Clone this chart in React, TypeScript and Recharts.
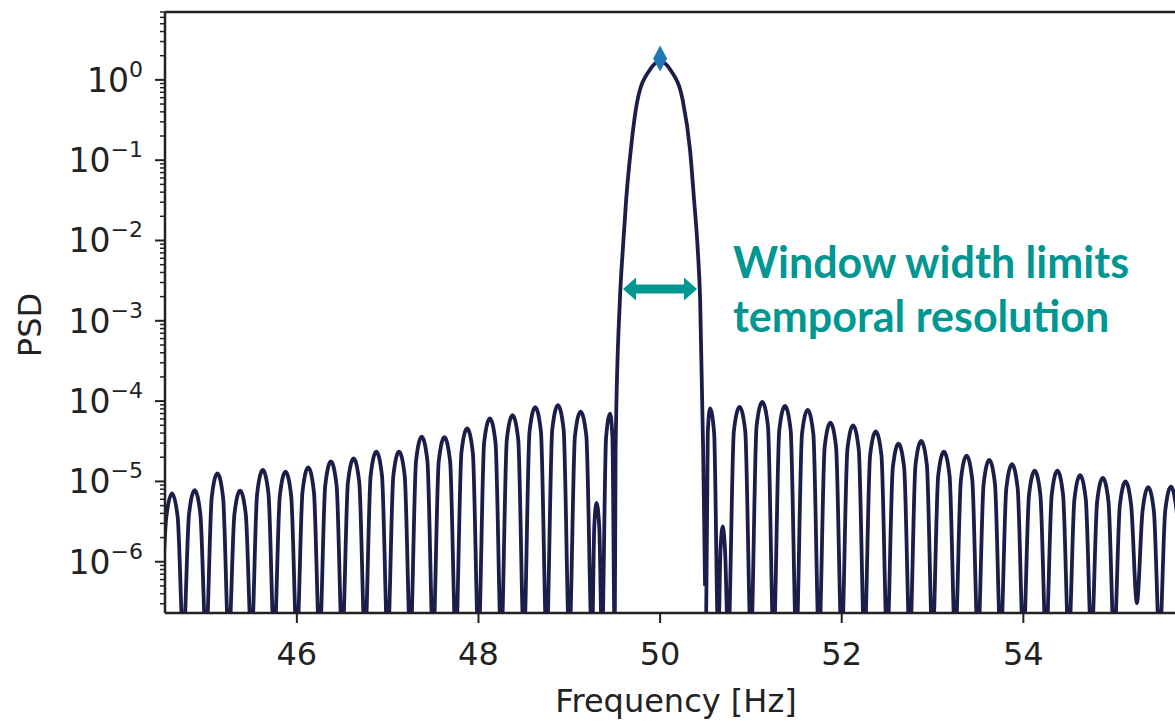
import React from 'react'
import { ComposedChart, Line, Scatter, XAxis, YAxis, ReferenceLine } from 'recharts'

// [frequency Hz, PSD]; nulls sit just below the axis floor
type Pt = [number, number | null]

const LEFT_SIDELOBES: Pt[] = [
  [44.5, 1e-7],
  [44.5625, 3.6e-6], [44.625, 7.1e-6], [44.6875, 3.6e-6], [44.75, 1e-7],
  [44.8125, 3.9e-6], [44.875, 7.8e-6], [44.9375, 3.9e-6], [45.0, 1e-7],
  [45.0625, 6.3e-6], [45.125, 1.26e-5], [45.1875, 6.3e-6], [45.25, 1e-7],
  [45.3125, 3.9e-6], [45.375, 7.7e-6], [45.4375, 3.9e-6], [45.5, 1e-7],
  [45.5625, 7.0e-6], [45.625, 1.39e-5], [45.6875, 7.0e-6], [45.75, 1e-7],
  [45.8125, 6.6e-6], [45.875, 1.32e-5], [45.9375, 6.6e-6], [46.0, 1e-7],
  [46.0625, 7.5e-6], [46.125, 1.5e-5], [46.1875, 7.5e-6], [46.25, 1e-7],
  [46.3125, 8.9e-6], [46.375, 1.77e-5], [46.4375, 8.9e-6], [46.5, 1e-7],
  [46.5625, 9.7e-6], [46.625, 1.94e-5], [46.6875, 9.7e-6], [46.75, 1e-7],
  [46.8125, 1.18e-5], [46.875, 2.35e-5], [46.9375, 1.18e-5], [47.0, 1e-7],
  [47.0625, 1.18e-5], [47.125, 2.35e-5], [47.1875, 1.18e-5], [47.25, 1e-7],
  [47.3125, 1.8e-5], [47.375, 3.6e-5], [47.4375, 1.8e-5], [47.5, 1e-7],
  [47.5625, 1.78e-5], [47.625, 3.55e-5], [47.6875, 1.78e-5], [47.75, 1e-7],
  [47.8125, 2.3e-5], [47.875, 4.57e-5], [47.9375, 2.3e-5], [48.0, 1e-7],
  [48.0625, 3.05e-5], [48.125, 6.1e-5], [48.1875, 3.05e-5], [48.25, 1e-7],
  [48.3125, 3.35e-5], [48.375, 6.7e-5], [48.4375, 3.35e-5], [48.5, 1e-7],
  [48.5625, 4.2e-5], [48.625, 8.4e-5], [48.6875, 4.2e-5], [48.75, 1e-7],
  [48.8125, 4.45e-5], [48.875, 8.9e-5], [48.9375, 4.45e-5], [49.0, 1e-7],
  [49.0625, 3.7e-5], [49.125, 7.4e-5], [49.1875, 3.7e-5], [49.25, 1e-7],
]

const INNER_LEFT: Pt[] = [
  [49.275, 2.7e-6], [49.3, 5.4e-6], [49.33, 2.7e-6], [49.36, 1e-7],
  [49.405, 3.5e-5], [49.45, 7.0e-5], [49.475, 3.5e-5], [49.5, 1e-7],
]

const MAIN_LOBE: Pt[] = [
  [49.51, 2.5e-5], [49.557, 1.8e-3], [49.589, 7.6e-3], [49.626, 3.2e-2], [49.677, 0.133],
  [49.75, 0.55], [49.882, 1.31],
  [50.0, 1.7],
  [50.118, 1.31], [50.25, 0.55],
  [50.33, 0.133], [50.374, 3.2e-2], [50.415, 7.6e-3], [50.441, 1.8e-3], [50.474, 2.5e-5], [50.495, 5e-7],
  [50.5, null],
]

const INNER_RIGHT: Pt[] = [
  [50.505, 1e-7], [50.525, 4.0e-5], [50.55, 8.1e-5], [50.595, 4.0e-5], [50.64, 1e-7],
  [50.665, 1.4e-6], [50.69, 2.75e-6], [50.715, 1.4e-6], [50.75, 1e-7],
]

const RIGHT_SIDELOBES: Pt[] = [
  [50.8125, 4.25e-5], [50.875, 8.5e-5], [50.9375, 4.25e-5], [51.0, 1e-7],
  [51.0625, 4.9e-5], [51.125, 9.8e-5], [51.1875, 4.9e-5], [51.25, 1e-7],
  [51.3125, 4.35e-5], [51.375, 8.7e-5], [51.4375, 4.35e-5], [51.5, 1e-7],
  [51.5625, 3.9e-5], [51.625, 7.8e-5], [51.6875, 3.9e-5], [51.75, 1e-7],
  [51.8125, 2.7e-5], [51.875, 5.4e-5], [51.9375, 2.7e-5], [52.0, 1e-7],
  [52.0625, 2.5e-5], [52.125, 5.0e-5], [52.1875, 2.5e-5], [52.25, 1e-7],
  [52.3125, 2.1e-5], [52.375, 4.2e-5], [52.4375, 2.1e-5], [52.5, 1e-7],
  [52.5625, 1.48e-5], [52.625, 2.95e-5], [52.6875, 1.48e-5], [52.75, 1e-7],
  [52.8125, 1.6e-5], [52.875, 3.2e-5], [52.9375, 1.6e-5], [53.0, 1e-7],
  [53.0625, 1.18e-5], [53.125, 2.35e-5], [53.1875, 1.18e-5], [53.25, 1e-7],
  [53.3125, 1.05e-5], [53.375, 2.1e-5], [53.4375, 1.05e-5], [53.5, 1e-7],
  [53.5625, 9.3e-6], [53.625, 1.86e-5], [53.6875, 9.3e-6], [53.75, 1e-7],
  [53.8125, 8.2e-6], [53.875, 1.64e-5], [53.9375, 8.2e-6], [54.0, 1e-7],
  [54.0625, 6.8e-6], [54.125, 1.36e-5], [54.1875, 6.8e-6], [54.25, 1e-7],
  [54.3125, 6.8e-6], [54.375, 1.36e-5], [54.4375, 6.8e-6], [54.5, 1e-7],
  [54.5625, 6.0e-6], [54.625, 1.2e-5], [54.6875, 6.0e-6], [54.75, 1e-7],
  [54.8125, 5.6e-6], [54.875, 1.11e-5], [54.9375, 5.6e-6], [55.0, 1e-7],
  [55.0625, 5.0e-6], [55.125, 1.0e-5], [55.1875, 5.0e-6], [55.25, 3.05e-7],
  [55.3125, 4.25e-6], [55.375, 8.5e-6], [55.4375, 4.25e-6], [55.5, 1e-7],
  [55.5625, 4.3e-6], [55.625, 8.6e-6], [55.6875, 4.3e-6], [55.75, 1e-7],
]

const PEAK_MARKER = [{ hz: 50, psd: 1.85 }]

const X_DOMAIN: [number, number] = [44.548, 55.67]
const Y_DOMAIN: [number, number] = [2.3e-7, 7.0]
const X_TICKS = [46, 48, 50, 52, 54]
const Y_MAJOR_TICKS = [1e-6, 1e-5, 1e-4, 1e-3, 1e-2, 1e-1, 1]
const MINOR_STEPS = [2, 3, 4, 5, 6, 7, 8, 9]

const Y_TICKS = [
  ...Y_MAJOR_TICKS,
  ...[1e-7, ...Y_MAJOR_TICKS].flatMap((d) => MINOR_STEPS.map((m) => m * d)),
]
  .filter((v) => v >= Y_DOMAIN[0] && v <= Y_DOMAIN[1])
  .sort((a, b) => a - b)

const curve = [...LEFT_SIDELOBES, ...INNER_LEFT, ...MAIN_LOBE, ...INNER_RIGHT, ...RIGHT_SIDELOBES].map(
  ([hz, psd]) => ({ hz, psd })
)

const INK = '#222'
const LINE = '#1b1d4a'
const MARKER = '#1f78b4'
const TEAL = '#009691'
const FONT = '"DejaVu Sans", sans-serif'

function XTick({ x, y, payload }: any) {
  return (
    <g>
      <line x1={x} x2={x} y1={y} y2={y + 10} stroke={INK} strokeWidth={2} />
      <text x={x} y={y + 52} textAnchor="middle" fontSize={32} fontFamily={FONT} fill={INK}>
        {payload.value}
      </text>
    </g>
  )
}

function YTick({ x, y, payload }: any) {
  const lg = Math.log10(payload.value)
  const e = Math.round(lg)
  const major = Math.abs(lg - e) < 1e-9
  return (
    <g>
      <line x1={x - (major ? 10 : 5)} x2={x} y1={y} y2={y} stroke={INK} strokeWidth={major ? 2 : 1.5} />
      {major && (
        <text x={x - 22} y={y + 12} textAnchor="end" fontSize={33} fontFamily={FONT} fill={INK}>
          10
          <tspan dy={-15} fontSize={22}>
            {e === 0 ? '0' : '\u2212' + -e}
          </tspan>
        </text>
      )}
    </g>
  )
}

const Diamond = (p: any) => (
  <polygon
    points={`${p.cx},${p.cy - 13} ${p.cx + 7},${p.cy} ${p.cx},${p.cy + 13} ${p.cx - 7},${p.cy}`}
    fill={MARKER}
  />
)

export default function App() {
  return (
    <div style={{ position: 'absolute', left: 0, top: 0, width: 1175, height: 723, background: '#fff' }}>
      <ComposedChart width={1175} height={723} data={curve} margin={{ top: 12, right: 0, bottom: 0, left: 0 }}>
        <XAxis
          type="number"
          dataKey="hz"
          domain={X_DOMAIN}
          allowDataOverflow
          ticks={X_TICKS}
          interval={0}
          tickSize={0}
          tickMargin={0}
          tickLine={false}
          tick={(p: any) => <XTick {...p} />}
          axisLine={{ stroke: INK, strokeWidth: 2.5 }}
          height={110}
          label={() => (
            <text x={676} y={712} textAnchor="middle" fontSize={32} fontFamily={FONT} fill={INK}>
              Frequency [Hz]
            </text>
          )}
        />
        <YAxis
          type="number"
          dataKey="psd"
          scale="log"
          domain={Y_DOMAIN}
          allowDataOverflow
          ticks={Y_TICKS}
          interval={0}
          tickSize={0}
          tickMargin={0}
          tickLine={false}
          tick={(p: any) => <YTick {...p} />}
          axisLine={{ stroke: INK, strokeWidth: 2.5 }}
          width={165}
          label={() => (
            <text
              x={30}
              y={325}
              transform="rotate(-90 30 325)"
              textAnchor="middle"
              dominantBaseline="central"
              fontSize={32}
              fontFamily={FONT}
              fill={INK}
            >
              PSD
            </text>
          )}
        />
        <ReferenceLine y={Y_DOMAIN[1]} stroke={INK} strokeWidth={2.5} ifOverflow="visible" />
        <Scatter data={PEAK_MARKER} dataKey="psd" shape={Diamond} isAnimationActive={false} />
        <Line
          dataKey="psd"
          type="monotone"
          stroke={LINE}
          strokeWidth={3.8}
          dot={false}
          activeDot={false}
          connectNulls={false}
          isAnimationActive={false}
        />
      </ComposedChart>
      <svg width={1175} height={723} style={{ position: 'absolute', left: 0, top: 0, pointerEvents: 'none' }}>
        <polygon
          points="623,289 636,277.5 636,284.5 684,284.5 684,277.5 697,289 684,300.5 684,293.5 636,293.5 636,300.5"
          fill={TEAL}
        />
        <text x={733} y={278} fontFamily="Lato, sans-serif" fontWeight={700} fontSize={43} fill={TEAL}>
          Window width limits
        </text>
        <text x={733} y={332} fontFamily="Lato, sans-serif" fontWeight={700} fontSize={43} fill={TEAL}>
          temporal resolution
        </text>
      </svg>
    </div>
  )
}
